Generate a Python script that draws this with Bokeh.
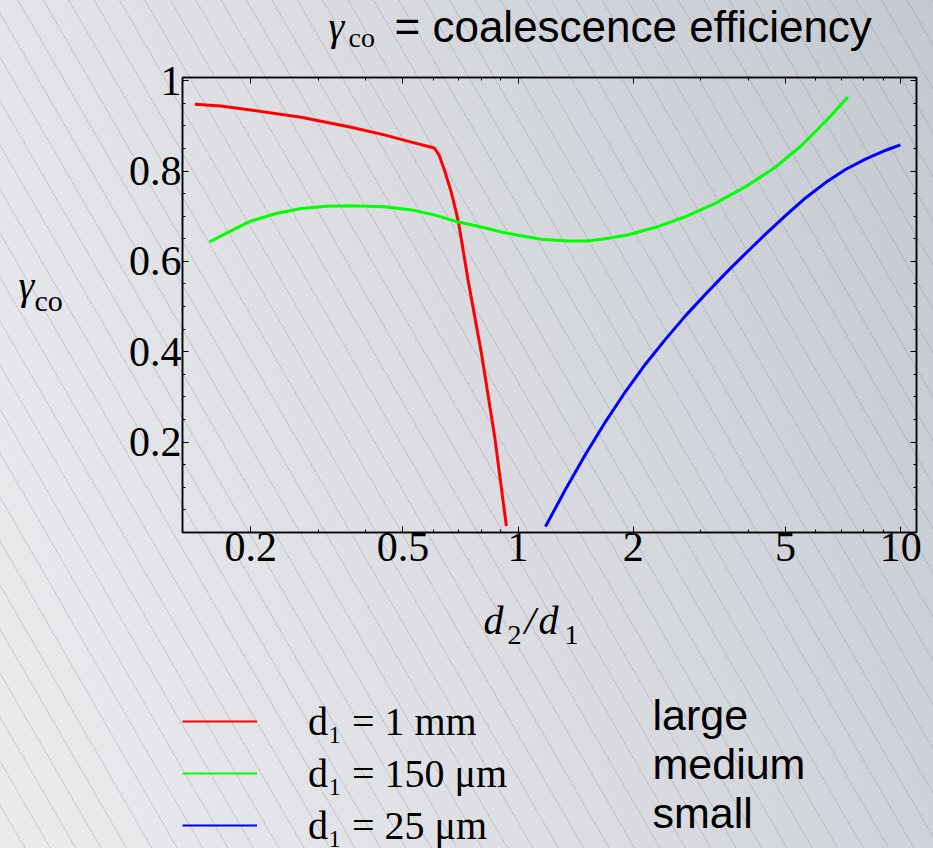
from bokeh.plotting import figure
from bokeh.layouts import column, row
from bokeh.models import (FixedTicker, LogAxis, LinearAxis, Label, Legend, LegendItem,
                          CustomJSTickFormatter)
from bokeh.embed import file_html
from bokeh.resources import INLINE

# ---------------- data ----------------
red_x = [0.143, 0.167, 0.200, 0.271, 0.366, 0.447, 0.526, 0.604, 0.622, 0.642,
         0.669, 0.690, 0.702, 0.740, 0.802, 0.869, 0.932]
red_y = [0.948, 0.944, 0.935, 0.919, 0.897, 0.880, 0.864, 0.851, 0.835, 0.802,
         0.753, 0.707, 0.676, 0.559, 0.397, 0.211, 0.014]

green_x = [0.156, 0.178, 0.200, 0.233, 0.271, 0.315, 0.366, 0.447, 0.526, 0.604,
           0.698, 0.802, 0.904, 1.000, 1.151, 1.354, 1.510, 1.652, 1.921, 2.300,
           2.758, 3.286, 3.959, 4.716, 5.516, 6.413, 7.278]
green_y = [0.643, 0.668, 0.689, 0.706, 0.717, 0.722, 0.723, 0.721, 0.714, 0.703,
           0.687, 0.676, 0.665, 0.658, 0.649, 0.645, 0.645, 0.649, 0.658, 0.676,
           0.700, 0.729, 0.767, 0.809, 0.857, 0.913, 0.964]

blue_x = [1.179, 1.330, 1.501, 1.692, 1.909, 2.154, 2.430, 2.741, 3.093, 3.489,
          3.936, 4.441, 5.009, 5.651, 6.376, 7.193, 8.115, 9.153, 9.980]
blue_y = [0.013, 0.095, 0.173, 0.245, 0.312, 0.373, 0.428, 0.480, 0.528, 0.574,
          0.618, 0.661, 0.702, 0.741, 0.775, 0.804, 0.827, 0.846, 0.858]

x_major = [0.2, 0.5, 1, 2, 5, 10]
x_minor = [0.3, 0.4, 0.6, 0.7, 0.8, 0.9, 3, 4, 6, 7, 8, 9]
y_major = [0.2, 0.4, 0.6, 0.8, 1.0]
y_minor = [0.05, 0.1, 0.15, 0.25, 0.3, 0.35, 0.45, 0.5, 0.55, 0.65, 0.7, 0.75,
           0.85, 0.9, 0.95]

series_x = [red_x, green_x, blue_x]
series_y = [red_y, green_y, blue_y]
series_labels = ["d\u2081 = 1 mm", "d\u2081 = 150 \u03bcm", "d\u2081 = 25 \u03bcm"]
series_colors = ["#ff0000", "#00ff00", "#0000ff"]
size_words = ["large", "medium", "small"]

SERIF = "Liberation Serif"
SANS = "Liberation Sans"

W = 933
H_TOP, H_MID = 54, 531
H_BOT = 848 - H_TOP - H_MID
W_LEFT = 100
Y_MID, Y_BOT = H_TOP, H_TOP + H_MID   # page offsets of the strips
ROW_H = 52


def text_panel(width, height):
    f = figure(width=width, height=height, output_backend="svg", toolbar_location=None,
               x_axis_location=None, y_axis_location=None, min_border=0,
               x_range=(0, width), y_range=(height, 0))
    f.background_fill_color = None
    f.border_fill_color = None
    f.outline_line_color = None
    f.grid.visible = False
    return f


def add_label(f, x, baseline, text, font, size, style="normal"):
    # Label is placed by its vertical middle; shift so the glyph baseline lands on `baseline`
    f.add_layout(Label(x=x, y=baseline - 0.37 * size, x_units="canvas", y_units="canvas",
                       text=text, text_font=font, text_font_size=f"{size}px",
                       text_font_style=style, text_color="black",
                       text_baseline="middle", text_align="left"))


# ---------------- title strip ----------------
top = text_panel(W, H_TOP)
add_label(top, 328, 41, "\u03b3", SERIF, 40, "italic")
add_label(top, 348, 47, "co", SERIF, 28)
add_label(top, 394, 42, "= coalescence efficiency", SANS, 44)

# ---------------- y label strip ----------------
left = text_panel(W_LEFT, H_MID)
add_label(left, 18, 300 - Y_MID, "\u03b3", SERIF, 40, "italic")
add_label(left, 34, 311 - Y_MID, "co", SERIF, 30)

# ---------------- main plot ----------------
p = figure(width=W - W_LEFT, height=H_MID, x_axis_type="log",
           x_range=(0.1327, 11.0), y_range=(0, 1.007),
           output_backend="svg", toolbar_location=None,
           min_border_left=82, min_border_right=17,
           min_border_top=77 - Y_MID, min_border_bottom=Y_BOT - 532)
p.background_fill_color = None
p.border_fill_color = None
p.outline_line_color = "black"
p.outline_line_width = 1.5
p.xgrid.visible = False
p.ygrid.visible = False

fmt = CustomJSTickFormatter(code="return String(Number(tick.toPrecision(6)));")
blank = CustomJSTickFormatter(code="return '';")


def style_axis(ax, show_labels):
    ax.axis_line_color = "black"
    ax.axis_line_width = 1.5
    ax.major_tick_in = 6
    ax.major_tick_out = 0
    ax.minor_tick_in = 3
    ax.minor_tick_out = 0
    ax.major_tick_line_color = "black"
    ax.minor_tick_line_color = "black"
    ax.major_tick_line_width = 1
    ax.minor_tick_line_width = 1
    ax.axis_label = None
    if show_labels:
        ax.major_label_text_font = SERIF
        ax.major_label_text_font_size = "42px"
        ax.major_label_text_color = "black"
        ax.formatter = fmt
    else:
        ax.formatter = blank
        ax.major_label_text_color = None
        ax.major_label_text_font_size = "1px"


xb = p.xaxis[0]
xb.ticker = FixedTicker(ticks=x_major, minor_ticks=x_minor)
style_axis(xb, True)
xb.major_label_standoff = 0

yl = p.yaxis[0]
yl.ticker = FixedTicker(ticks=y_major, minor_ticks=y_minor)
style_axis(yl, True)
yl.major_label_standoff = 1

xt = LogAxis(ticker=FixedTicker(ticks=x_major, minor_ticks=x_minor))
style_axis(xt, False)
p.add_layout(xt, "above")

yr = LinearAxis(ticker=FixedTicker(ticks=y_major, minor_ticks=y_minor))
style_axis(yr, False)
p.add_layout(yr, "right")

for xs, ys, c in zip(series_x, series_y, series_colors):
    p.line(xs, ys, line_color=c, line_width=3)

# ---------------- bottom strip: x label + legend ----------------
bot = text_panel(W, H_BOT)
add_label(bot, 483, 635 - Y_BOT, "d", SERIF, 40, "italic")
add_label(bot, 507, 645 - Y_BOT, "2", SERIF, 28)
add_label(bot, 524, 635 - Y_BOT, "/", SERIF, 40, "italic")
add_label(bot, 538, 635 - Y_BOT, "d", SERIF, 40, "italic")
add_label(bot, 564, 645 - Y_BOT, "1", SERIF, 28)

# legend keys: one-point lines (draw nothing themselves, only give the legend its samples)
keys = [bot.line(xs[:1], ys[:1], line_color=c, line_width=2)
        for xs, ys, c in zip(series_x, series_y, series_colors)]
legend_top = 695 - Y_BOT
legend = Legend(
    items=[LegendItem(label=lab, renderers=[k]) for lab, k in zip(series_labels, keys)],
    location=(182, H_BOT - (legend_top + 3 * ROW_H)), orientation="vertical",
    padding=0, spacing=0, margin=0,
    border_line_color=None, background_fill_alpha=0,
    glyph_width=75, glyph_height=ROW_H, label_height=ROW_H,
    label_standoff=51,
    label_text_font=SERIF, label_text_font_size="40px", label_text_color="black",
)
bot.add_layout(legend, "center")

for word, base in zip(size_words, [730, 779, 828]):
    add_label(bot, 652, base - Y_BOT, word, SANS, 43)

page = column(top, row(left, p), bot)
page.styles = {
    "background": (
        "repeating-linear-gradient(60deg, rgba(120,125,135,0) 0px, rgba(120,125,135,0) 21px, "
        "rgba(120,125,135,0.26) 21px, rgba(120,125,135,0.26) 22px), "
        "linear-gradient(70deg, #eaebed 0%, #dcdee2 45%, #c4c8d0 100%)"
    )
}

open("out.html", "w").write(file_html(page, INLINE))
